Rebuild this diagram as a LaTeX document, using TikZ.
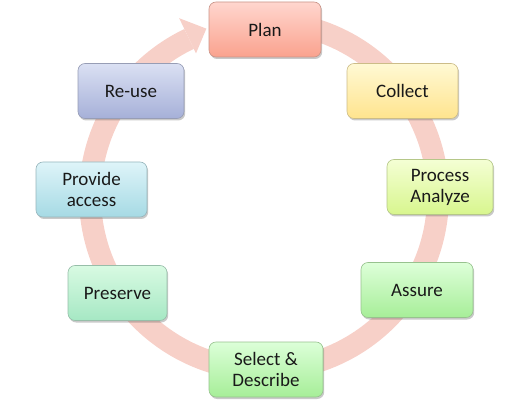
\documentclass[tikz,border=0pt]{standalone}
\usepackage{fontspec}
\setmainfont{Carlito}
\usetikzlibrary{shadows,calc}
\definecolor{ring}{RGB}{247,208,200}
\definecolor{plT}{RGB}{255,214,206}\definecolor{plB}{RGB}{250,162,142}
\definecolor{coT}{RGB}{255,249,212}\definecolor{coB}{RGB}{255,228,142}
\definecolor{prT}{RGB}{244,255,212}\definecolor{prB}{RGB}{216,246,142}
\definecolor{asT}{RGB}{222,255,217}\definecolor{asB}{RGB}{166,238,152}
\definecolor{seT}{RGB}{220,255,216}\definecolor{seB}{RGB}{166,238,152}
\definecolor{psT}{RGB}{216,250,226}\definecolor{psB}{RGB}{166,232,196}
\definecolor{pvT}{RGB}{222,244,249}\definecolor{pvB}{RGB}{166,218,228}
\definecolor{ruT}{RGB}{218,224,243}\definecolor{ruB}{RGB}{166,176,216}
\tikzset{
  stepbox/.style n args={2}{rectangle, rounded corners=7pt, minimum height=55pt,
    top color=#1, bottom color=#2, draw=#2!75!black!80, line width=0.6pt,
    font=\fontsize{19}{21}\selectfont, text=black!90, align=center,
    inner sep=2pt,
    drop shadow={shadow xshift=1.2pt,shadow yshift=-2pt,opacity=0.3,fill=black!70}},
  ringline/.style={draw=ring, line width=22pt},
}
\begin{document}
\begin{tikzpicture}[x=1pt,y=-1pt]
\useasboundingbox (0,0) rectangle (529,411);
\coordinate (c) at (264,196);
% circular arrow
\draw[ringline] ($(c)+(-90:174)$) arc[start angle=-90, end angle=244.5, radius=174];
\fill[ring] ($(c)+(244.5:158)$) -- ($(c)+(244.5:197)$) -- ($(c)+(251:177)$) -- cycle;
% boxes
\node[stepbox={plT}{plB}, minimum width=112pt] (plan) at (265,29.5) {Plan};
\node[stepbox={coT}{coB}, minimum width=111pt] (collect) at (402.5,91) {Collect};
\node[stepbox={prT}{prB}, minimum width=106pt] (process) at (440,187) {Process\\Analyze};
\node[stepbox={asT}{asB}, minimum width=112pt] (assure) at (417,290) {Assure};
\node[stepbox={seT}{seB}, minimum width=114pt] (select) at (266,369.5) {Select \&\\Describe};
\node[stepbox={psT}{psB}, minimum width=99pt] (preserve) at (117.5,293) {Preserve};
\node[stepbox={pvT}{pvB}, minimum width=111pt] (provide) at (91.5,189.5) {Provide\\access};
\node[stepbox={ruT}{ruB}, minimum width=106pt] (reuse) at (131,91) {Re-use};
\end{tikzpicture}
\end{document}
